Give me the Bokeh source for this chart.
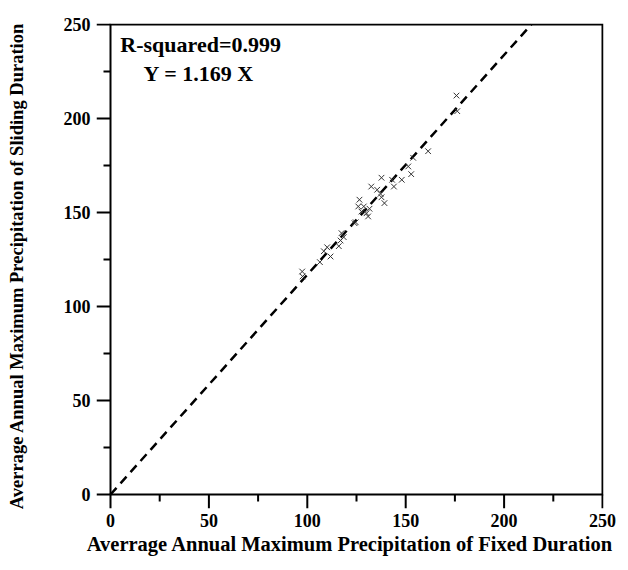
from bokeh.plotting import figure
from bokeh.models import Range1d, FixedTicker, Label
from bokeh.embed import file_html
from bokeh.resources import INLINE

# Data
fixed = [175.8, 176.2, 161.4, 153.8, 151.3, 152.8, 137.7, 143.1, 148.0, 144.0,
         132.5, 135.5, 137.2, 137.7, 126.5, 139.2, 125.9, 128.7, 131.6, 127.5,
         130.1, 130.9, 124.6, 124.0, 117.4, 118.5, 116.9, 116.0, 110.1, 108.4,
         111.8, 106.4, 97.4, 97.6]
sliding = [212.2, 203.9, 182.6, 179.1, 174.5, 170.4, 168.5, 167.4, 167.4, 163.8,
           163.8, 162.1, 159.9, 158.1, 156.8, 155.0, 153.2, 153.2, 152.0, 150.5,
           149.6, 147.9, 144.8, 144.3, 139.0, 136.9, 135.1, 132.1, 131.5, 129.4,
           126.6, 123.6, 118.6, 116.0]
slope = 1.169
r_squared = "0.999"
ticks = [0, 50, 100, 150, 200, 250]
minor = [25, 75, 125, 175, 225]
x_title = "Averrage Annual Maximum Precipitation of Fixed Duration"
y_title = "Averrage Annual Maximum Precipitation of Sliding Duration"

FONT = "Liberation Serif"

lo, hi = ticks[0], ticks[-1]
PX_X = 1.968   # screen pixels per data unit (x)
PX_Y = 1.880   # screen pixels per data unit (y)
MAJ, MIN = 14, 7  # tick lengths in px

# ranges extended so the outside ticks are drawn inside the frame
x_range = Range1d(lo - MAJ / PX_X, hi + 1 / PX_X)
y_range = Range1d(lo - MAJ / PX_Y, hi + 1 / PX_Y)

p = figure(width=620, height=570, output_backend="svg", toolbar_location=None,
           x_range=x_range, y_range=y_range,
           min_border_left=96, min_border_right=17, min_border_top=23,
           min_border_bottom=62)
p.grid.visible = False
p.outline_line_color = None

# box around the data area
p.line([lo, hi, hi, lo, lo], [lo, lo, hi, hi, lo], line_color="black",
       line_width=2, line_join="miter")

# tick marks (outside the box)
p.segment(x0=ticks, y0=[lo] * len(ticks), x1=ticks,
          y1=[lo - MAJ / PX_Y] * len(ticks), line_color="black", line_width=2)
p.segment(x0=minor, y0=[lo] * len(minor), x1=minor,
          y1=[lo - MIN / PX_Y] * len(minor), line_color="black", line_width=2)
p.segment(x0=[lo] * len(ticks), y0=ticks, x1=[lo - MAJ / PX_X] * len(ticks),
          y1=ticks, line_color="black", line_width=2)
p.segment(x0=[lo] * len(minor), y0=minor, x1=[lo - MIN / PX_X] * len(minor),
          y1=minor, line_color="black", line_width=2)

# fit line
fit_x = [lo, hi / slope]
fit_y = [lo, hi]
p.line(fit_x, fit_y, line_color="black", line_width=2.5, line_dash="9 6")
p.scatter(fixed, sliding, marker="x", size=8, line_color="#333333", line_width=1)

for ax in (p.xaxis[0], p.yaxis[0]):
    ax.ticker = FixedTicker(ticks=ticks)
    ax.axis_line_color = None
    ax.major_tick_line_color = None
    ax.minor_tick_line_color = None
    ax.major_tick_out = 0
    ax.major_tick_in = 0
    ax.minor_tick_out = 0
    ax.minor_tick_in = 0
    ax.major_label_text_font = FONT
    ax.major_label_text_font_style = "bold"
    ax.major_label_text_font_size = "18px"
    ax.major_label_text_color = "black"
    ax.axis_label_text_font = FONT
    ax.axis_label_text_font_style = "bold"
    ax.axis_label_text_color = "black"

p.xaxis.axis_label = x_title
p.yaxis.axis_label = y_title
p.xaxis.axis_label_text_font_size = "20.5px"
p.yaxis.axis_label_text_font_size = "18.5px"
p.xaxis.major_label_standoff = 5
p.xaxis.axis_label_standoff = 3
p.yaxis.major_label_standoff = 6
p.yaxis.axis_label_standoff = 34

p.add_layout(Label(x=5, y=239.5, text="R-squared=" + r_squared, text_font=FONT,
                   text_font_style="bold", text_font_size="22px",
                   text_baseline="middle", text_color="black"))
p.add_layout(Label(x=16.8, y=224, text="Y = %.3f X" % slope, text_font=FONT,
                   text_font_style="bold", text_font_size="22px",
                   text_baseline="middle", text_color="black"))

open("out.html", "w").write(file_html(p, INLINE))
